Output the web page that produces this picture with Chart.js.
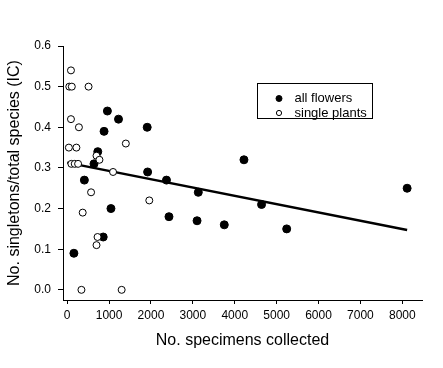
<!DOCTYPE html>
<html>
<head>
<meta charset="utf-8">
<script src="https://cdn.jsdelivr.net/npm/chart.js@4.4.1/dist/chart.umd.min.js"></script>
<style>
  html, body { margin: 0; padding: 0; background: #fff; }
  #wrap { width: 443px; height: 368px; position: relative; }
</style>
</head>
<body>
<div id="wrap"><canvas id="c"></canvas></div>
<script>
// ---- data ----
const allFlowersX = [160, 410, 640, 730, 860, 880, 960, 1045, 1225, 1910, 1920, 2370, 2430, 3100, 3130, 3750, 4220, 4640, 5240, 8115];
const allFlowersY = [0.09, 0.27, 0.31, 0.34, 0.13, 0.39, 0.44, 0.20, 0.42, 0.40, 0.29, 0.27, 0.18, 0.17, 0.24, 0.16, 0.32, 0.21, 0.15, 0.25];

const singlePlantsX = [90, 50, 110, 510, 90, 280, 40, 220, 1400, 700, 770, 100, 180, 260, 1095, 570, 370, 725, 700, 340, 1300, 1960];
const singlePlantsY = [0.54, 0.50, 0.50, 0.50, 0.42, 0.40, 0.35, 0.35, 0.36, 0.33, 0.32, 0.31, 0.31, 0.31, 0.29, 0.24, 0.19, 0.13, 0.11, 0.00, 0.00, 0.22];

const fitX = [0, 8115];
const fitY = [0.313, 0.147];

const xTicks = [0, 1000, 2000, 3000, 4000, 5000, 6000, 7000, 8000];
const yTicks = [0.0, 0.1, 0.2, 0.3, 0.4, 0.5, 0.6];

const seriesLabels = ['all flowers', 'single plants'];
const xTitle = 'No. specimens collected';
const yTitle = 'No. singletons/total species (IC)';

// ---- build ----
const zip = (xs, ys) => xs.map((x, i) => ({ x: x, y: ys[i] }));
const FONT = '"Liberation Sans", Arial, sans-serif';

const legendPlugin = {
  id: 'boxLegend',
  afterDraw(chart) {
    const ctx = chart.ctx;
    const ca = chart.chartArea;
    const bx = ca.left + 194.5, by = ca.top + 37.5, bw = 115, bh = 35;
    ctx.save();
    ctx.strokeStyle = '#000';
    ctx.lineWidth = 1;
    ctx.strokeRect(bx, by, bw, bh);
    const items = chart.data.datasets.filter(d => seriesLabels.includes(d.label));
    items.sort((a, b) => seriesLabels.indexOf(a.label) - seriesLabels.indexOf(b.label));
    ctx.font = '13px ' + FONT;
    ctx.textBaseline = 'middle';
    ctx.textAlign = 'left';
    items.forEach((d, i) => {
      const cy = by + 15 + i * 14.5;
      const cx = bx + 21.5;
      ctx.beginPath();
      ctx.arc(cx, cy, d.label === 'all flowers' ? 3 : 2.6, 0, Math.PI * 2);
      ctx.fillStyle = d.backgroundColor;
      ctx.fill();
      ctx.lineWidth = 1;
      ctx.strokeStyle = '#000';
      ctx.stroke();
      ctx.fillStyle = '#000';
      ctx.fillText(d.label, bx + 37, cy);
    });
    ctx.restore();
  }
};

new Chart(document.getElementById('c'), {
  type: 'scatter',
  data: {
    datasets: [
      {
        label: seriesLabels[0],
        data: zip(allFlowersX, allFlowersY),
        backgroundColor: '#000',
        borderColor: '#000',
        borderWidth: 1,
        pointRadius: 4,
        order: 2
      },
      {
        label: seriesLabels[1],
        data: zip(singlePlantsX, singlePlantsY),
        backgroundColor: '#fff',
        borderColor: '#000',
        borderWidth: 1,
        pointRadius: 3.5,
        order: 1
      },
      {
        type: 'line',
        label: 'fit',
        data: zip(fitX, fitY),
        borderColor: '#000',
        borderWidth: 2.5,
        pointRadius: 0,
        fill: false,
        order: 3
      }
    ]
  },
  options: {
    responsive: true,
    maintainAspectRatio: false,
    animation: false,
    devicePixelRatio: 1,
    layout: { padding: { left: 5, top: 46, right: 21, bottom: 18 } },
    plugins: {
      legend: { display: false },
      tooltip: { enabled: false }
    },
    scales: {
      x: {
        type: 'linear',
        min: -100,
        max: 8470,
        afterBuildTicks: s => { s.ticks = xTicks.map(v => ({ value: v })); },
        afterFit: s => { s.height = 50; },
        ticks: {
          callback: v => String(v),
          color: '#000',
          font: { family: FONT, size: 12 },
          padding: 4,
          maxRotation: 0,
          autoSkip: false
        },
        grid: { display: true, drawOnChartArea: false, drawTicks: true, tickLength: 4, color: '#000', lineWidth: 1 },
        border: { display: true, color: '#000', width: 1 },
        title: { display: true, text: xTitle, color: '#000', font: { family: FONT, size: 16 }, padding: 0 }
      },
      y: {
        type: 'linear',
        min: -0.025,
        max: 0.6,
        afterBuildTicks: s => { s.ticks = yTicks.map(v => ({ value: v })); },
        afterFit: s => { s.width = 58; },
        ticks: {
          callback: v => Number(v).toFixed(1),
          color: '#000',
          font: { family: FONT, size: 12 },
          padding: 7,
          autoSkip: false
        },
        grid: { display: true, drawOnChartArea: false, drawTicks: true, tickLength: 5, color: '#000', lineWidth: 1 },
        border: { display: true, color: '#000', width: 1 },
        title: { display: true, text: yTitle, color: '#000', font: { family: FONT, size: 16 }, padding: 0 }
      }
    }
  },
  plugins: [legendPlugin]
});
</script>
</body>
</html>
